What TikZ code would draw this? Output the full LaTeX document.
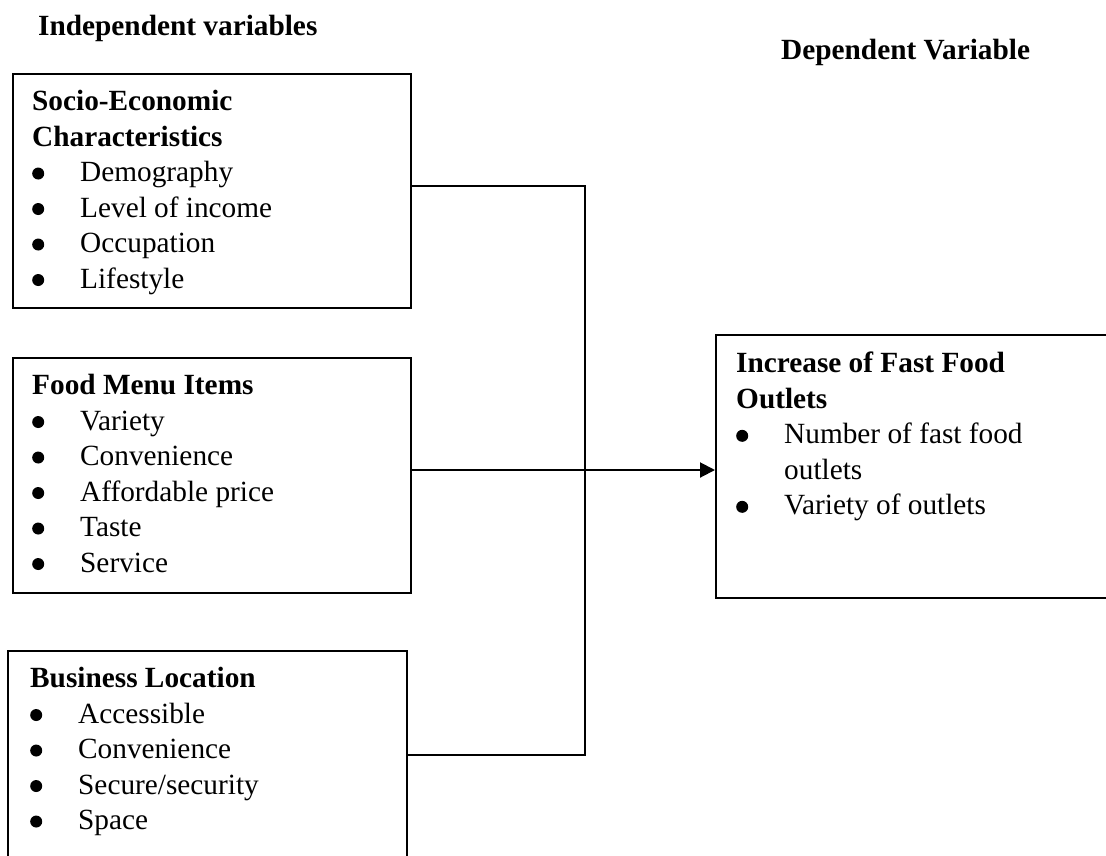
\documentclass[tikz,border=0pt]{standalone}
\usepackage{fontspec}
\setmainfont{Liberation Serif}
\usetikzlibrary{arrows.meta}
\newcommand{\bul}[1]{\makebox[48pt][l]{\tikz[x=1pt, y=1pt, baseline=0pt]\fill (6,8) circle (6);}#1}

\begin{document}
\begin{tikzpicture}[
	x=1pt, y=-1pt,
	font=\fontsize{29.3}{35.5}\selectfont,
	box/.style = {draw, line width=2pt, rectangle, anchor=north west, inner sep=0pt},
	txt/.style = {anchor=north west, align=left, inner sep=0pt},
	head/.style = {anchor=base west, inner sep=0pt, font=\fontsize{29.3}{35.5}\selectfont\bfseries},
	conn/.style = {line width=2pt},
]
\clip (0,0) rectangle (1106,855);

\node[head] (indep) at (38,35) {Independent variables};
\node[head] (dep) at (781,59) {Dependent Variable};

\node[box, minimum width=398pt, minimum height=234pt] (socio) at (12,73) {};
\node[box, minimum width=398pt, minimum height=235pt] (menu) at (12,357) {};
\node[box, minimum width=399pt, minimum height=300pt] (loc) at (7,650) {};
\node[box, minimum width=500pt, minimum height=263pt] (outl) at (715,334) {};

\node[txt] (sociotxt) at (32,90) {\textbf{Socio-Economic}\\ \textbf{Characteristics}\\
	\bul{Demography}\\ \bul{Level of income}\\ \bul{Occupation}\\ \bul{Lifestyle}};
\node[txt] (menutxt) at (32,374) {\textbf{Food Menu Items}\\
	\bul{Variety}\\ \bul{Convenience}\\ \bul{Affordable price}\\ \bul{Taste}\\ \bul{Service}};
\node[txt] (loctxt) at (30,667) {\textbf{Business Location}\\
	\bul{Accessible}\\ \bul{Convenience}\\ \bul{Secure/security}\\ \bul{Space}};
\node[txt] (outltxt) at (736,352) {\textbf{Increase of Fast Food}\\ \textbf{Outlets}\\
	\bul{Number of fast food}\\ \hspace*{48pt}outlets\\ \bul{Variety of outlets}};

\coordinate (join) at (585,470);
\draw[conn] ([yshift=-113pt]socio.north east) -| (join);
\draw[conn] ([yshift=-105pt]loc.north east) -| (join);
\draw[conn, -{Triangle[length=15pt, width=15pt]}] ([yshift=-113pt]menu.north east) -- ([yshift=-136pt]outl.north west);

\end{tikzpicture}
\end{document}
